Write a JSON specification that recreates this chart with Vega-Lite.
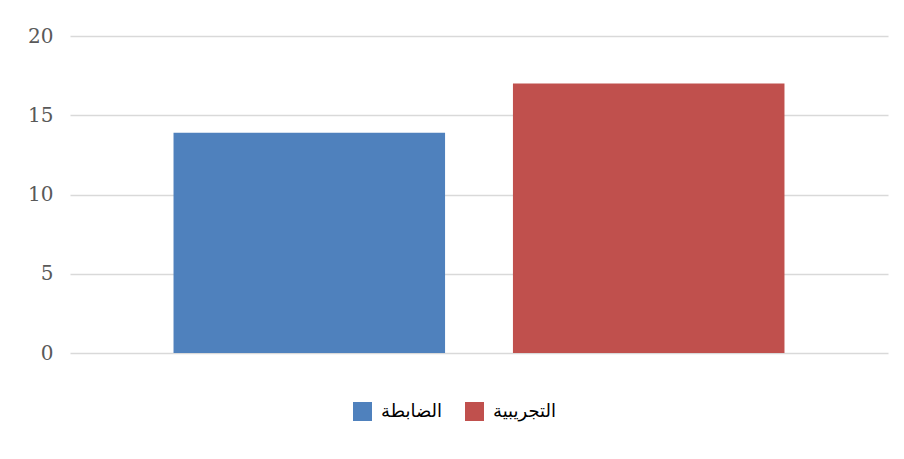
{
  "$schema": "https://vega.github.io/schema/vega-lite/v6.json",
  "autosize": "none",
  "width": 818,
  "height": 317,
  "padding": {"left": 70, "top": 36, "right": 16, "bottom": 106},
  "background": "white",
  "config": {"view": {"stroke": null}},
  "data": {"values": [
    {"group": "الضابطة", "value": 13.9},
    {"group": "التجريبية", "value": 17}
  ]},
  "mark": {"type": "bar"},
  "encoding": {
    "x": {
      "field": "group", "type": "nominal",
      "sort": ["الضابطة", "التجريبية"],
      "scale": {"paddingInner": 0.2, "paddingOuter": 0.305},
      "axis": null
    },
    "y": {
      "field": "value", "type": "quantitative",
      "scale": {"domain": [0, 20], "nice": false},
      "axis": {
        "values": [0, 5, 10, 15, 20],
        "title": null,
        "domain": false,
        "ticks": false,
        "labelPadding": 17,
        "labelFont": "DejaVu Serif",
        "labelFontSize": 20,
        "labelColor": "#595959",
        "gridColor": "#d9d9d9",
        "gridWidth": 1.5
      }
    },
    "color": {
      "field": "group", "type": "nominal",
      "sort": ["الضابطة", "التجريبية"],
      "scale": {"domain": ["الضابطة", "التجريبية"], "range": ["#4F81BD", "#C0504D"]},
      "legend": {
        "orient": "none",
        "legendX": 283,
        "legendY": 366,
        "title": null,
        "direction": "horizontal",
        "symbolType": "square",
        "symbolSize": 361,
        "symbolStrokeWidth": 0,
        "labelFont": "DejaVu Sans",
        "labelFontSize": 18,
        "labelColor": "#000000",
        "columnPadding": 22,
        "labelOffset": 9
      }
    }
  }
}
